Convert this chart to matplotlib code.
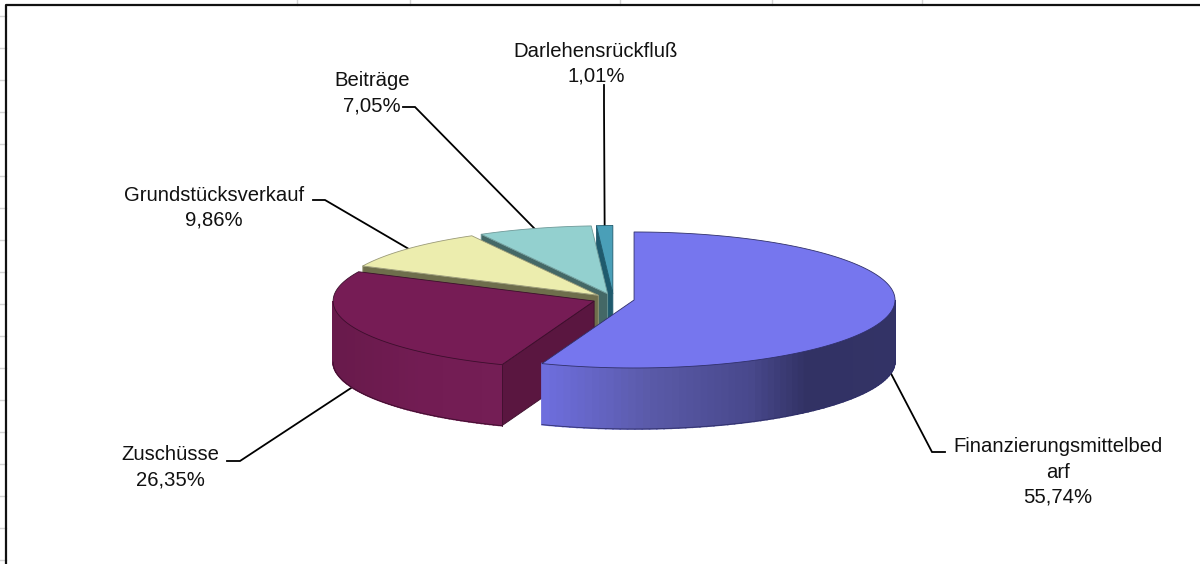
import numpy as np
import matplotlib
matplotlib.use('Agg')
import matplotlib.pyplot as plt
from matplotlib.patches import Polygon

plt.rcParams['font.family'] = ['Liberation Sans', 'DejaVu Sans']

# Anteile in Prozent, im Uhrzeigersinn ab 12 Uhr
categories = ['Finanzierungsmittelbed\narf', 'Zuschüsse', 'Grundstücksverkauf', 'Beiträge', 'Darlehensrückfluß']
shares = [55.74, 26.35, 9.86, 7.05, 1.01]
share_labels = ['55,74%', '26,35%', '9,86%', '7,05%', '1,01%']

top_colors = ['#7676ee', '#761c55', '#ecedae', '#93d0cf', '#4a9fb8']
cut_colors = ['#3a3a78', '#5a1640', '#6e6e4c', '#446866', '#1f5a6d']
edge_colors = ['#30306a', '#3c0e2c', '#9a9a78', '#6f9a99', '#1f5a6d']

# Beschriftung: Textmitte, Knick der Fuehrungslinie, Ende der Linie
label_x = [1058, 170, 214, 372, 596]
label_y = [472, 467, 208, 93, 64]
elbow_x = [932, 240, 325, 415, 604]
elbow_y = [452, 461, 200, 107, 105]
end_x = [945, 227, 313, 403, 604]
end_y = [452, 461, 200, 107, 85]

# Pixelgeometrie der Torte
cx, cy = 613.5, 299.0
rx, ry = 261.0, 68.0
depth = 61.0
explode = 0.08

fig = plt.figure(figsize=(12, 5.64), dpi=100)
ax = fig.add_axes([0, 0, 1, 1])
ax.set_xlim(0, 1200)
ax.set_ylim(564, 0)
ax.axis('off')

# Tabellenraster rund um das Diagramm
for y in range(16, 564, 32):
    ax.plot([0, 6], [y, y], color='#d4d4d4', lw=1)
for x in [297, 410, 620, 772, 922]:
    ax.plot([x, x], [0, 5], color='#d4d4d4', lw=1)
ax.plot([6, 6, 1200], [564, 5, 5], color='#111111', lw=1.6)


def point(angle, apex, r=1.0):
    a = np.radians(angle)
    return apex[0] + r * rx * np.sin(a), apex[1] - r * ry * np.cos(a)


def arc(start, stop, apex):
    a = np.radians(np.linspace(start, stop, 120))
    return np.column_stack([apex[0] + rx * np.sin(a), apex[1] - ry * np.cos(a)])


def wall_color(slice_idx, x):
    # seitlicher Farbverlauf der Aussenwand
    if slice_idx == 0:
        stops_x = [543, 650, 750, 805, 895]
        stops = [(0x6e, 0x6e, 0xde), (0x5a, 0x5a, 0xa8), (0x48, 0x48, 0x8c), (0x32, 0x32, 0x64), (0x33, 0x33, 0x66)]
    else:
        stops_x = [333, 420, 502]
        stops = [(0x68, 0x1a, 0x4b), (0x72, 0x1c, 0x53), (0x74, 0x1e, 0x55)]
    rgb = [np.interp(x, stops_x, [s[i] for s in stops]) / 255 for i in range(3)]
    return tuple(rgb)


bounds = np.concatenate([[0], np.cumsum(shares)]) * 3.6
bounds[-1] = 360.0
mids = (bounds[:-1] + bounds[1:]) / 2
apexes = [point(m, (cx, cy), explode) for m in mids]

# von hinten nach vorne zeichnen
for i in [4, 3, 2, 1, 0]:
    start, stop = bounds[i], bounds[i + 1]
    apex = apexes[i]
    z = 2 + (4 - i)

    # Schnittflaeche an der linken Seite des Stuecks
    if i > 0:
        corner = point(start, apex)
        ax.add_patch(Polygon([apex, corner, (corner[0], corner[1] + depth), (apex[0], apex[1] + depth)],
                             closed=True, fc=cut_colors[i], ec=edge_colors[i], lw=0.6, zorder=z))

    # Aussenwand, nur wo sie nach vorne zeigt
    lo, hi = max(start, 90), min(stop, 270)
    if lo < hi:
        steps = np.linspace(lo, hi, 70)
        for a0, a1 in zip(steps[:-1], steps[1:]):
            p0 = point(a0, apex)
            p1 = point(a1, apex)
            c = wall_color(i, (p0[0] + p1[0]) / 2)
            ax.add_patch(Polygon([p0, p1, (p1[0], p1[1] + depth), (p0[0], p0[1] + depth)],
                                 closed=True, fc=c, ec=c, lw=1.2, zorder=z))
        pts = arc(lo, hi, apex)
        ax.plot(pts[:, 0], pts[:, 1] + depth, color=edge_colors[i], lw=0.6, zorder=z + 0.5)
        p = point(lo, apex)
        ax.plot([p[0], p[0]], [p[1], p[1] + depth], color=edge_colors[i], lw=0.6, zorder=z + 0.5)

    # Deckflaeche
    pts = np.vstack([[apex], arc(start, stop, apex)])
    ax.add_patch(Polygon(pts, closed=True, fc=top_colors[i], ec=edge_colors[i], lw=0.6,
                         joinstyle='round', zorder=z + 0.6))

# Fuehrungslinien und Beschriftungen
for i in range(len(shares)):
    apex = apexes[i]
    start_pt = point(mids[i], apex)
    sy = start_pt[1] + depth if 90 < mids[i] < 270 else start_pt[1]
    ax.plot([start_pt[0], elbow_x[i], end_x[i]], [sy, elbow_y[i], end_y[i]],
            color='black', lw=1.3, solid_joinstyle='miter', zorder=1)
    ax.text(label_x[i], label_y[i], categories[i] + '\n' + share_labels[i],
            ha='center', va='center', fontsize=14.6, color='#111111', linespacing=1.4, zorder=10)

fig.savefig('out.png', dpi=100, facecolor='white')
